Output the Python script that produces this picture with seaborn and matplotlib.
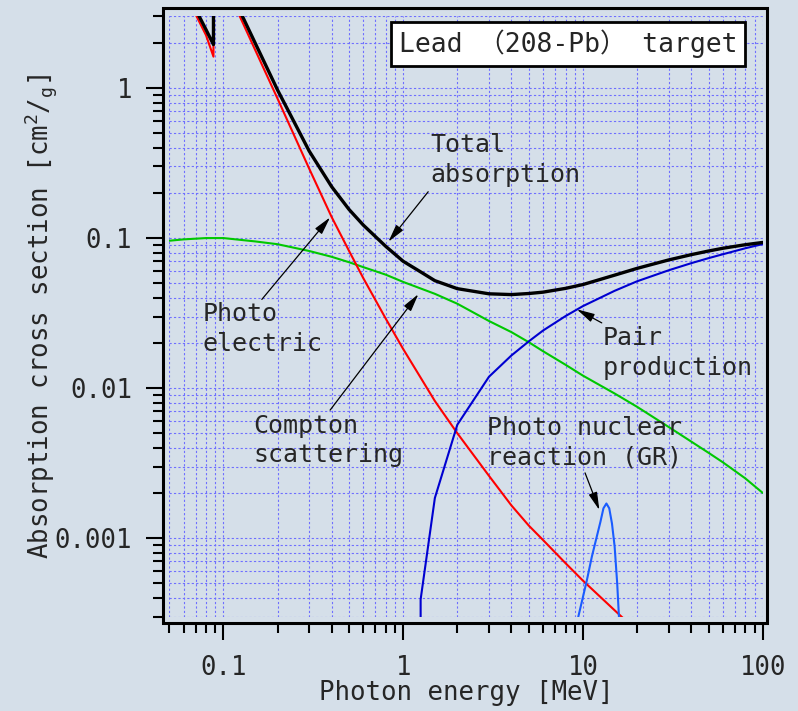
import matplotlib
matplotlib.use('Agg')
import numpy as np
import pandas as pd
import matplotlib.pyplot as plt
import seaborn as sns
from matplotlib.patches import Rectangle
from matplotlib.ticker import LogLocator, NullFormatter

# values (cm2/g vs MeV), lead target
# photo electric has the K-edge at 88 keV, hence the repeated energy
pe_energy = [0.07, 0.08, 0.088, 0.088, 0.1, 0.15, 0.2, 0.3, 0.4, 0.5, 0.6, 0.8, 1, 1.5,
             2, 3, 4, 5, 6, 8, 10, 15, 20]
pe_value = [3.1, 2.25, 1.62, 7.4, 5.2, 1.8, 0.85, 0.29, 0.138, 0.082, 0.054, 0.029, 0.0182,
            0.0082, 0.0050, 0.0026, 0.00165, 0.00121, 0.00097, 0.00068, 0.00052, 0.00033,
            0.00024]

total_energy = [0.07, 0.08, 0.088, 0.088, 0.1, 0.15, 0.2, 0.3, 0.4, 0.5, 0.6, 0.8, 1, 1.25,
                1.5, 2, 3, 4, 5, 6, 8, 10, 15, 20, 30, 40, 50, 60, 80, 100]
total_value = [3.35, 2.45, 1.95, 7.7, 5.55, 2.0, 0.97, 0.38, 0.22, 0.155, 0.122, 0.088, 0.070,
               0.0595, 0.052, 0.046, 0.0425, 0.042, 0.0427, 0.0436, 0.0462, 0.049, 0.0566,
               0.0628, 0.0715, 0.0775, 0.082, 0.0855, 0.0903, 0.0935]

compton_energy = [0.05, 0.06, 0.08, 0.1, 0.15, 0.2, 0.3, 0.4, 0.5, 0.6, 0.8, 1, 1.5, 2, 3, 4,
                  5, 6, 8, 10, 15, 20, 30, 40, 50, 60, 80, 100]
compton_value = [0.096, 0.098, 0.1, 0.1, 0.095, 0.091, 0.082, 0.075, 0.069, 0.064, 0.057,
                 0.051, 0.0425, 0.0365, 0.028, 0.0236, 0.0202, 0.0176, 0.0143, 0.0121,
                 0.0092, 0.0075, 0.0055, 0.0044, 0.0037, 0.0032, 0.0025, 0.002]

# pair production switches on at 1.25 MeV in the chart
pair_energy = [1.25, 1.25, 1.5, 2, 3, 4, 5, 6, 8, 10, 15, 20, 30, 40, 50, 60, 80, 100]
pair_value = [0.0001, 0.00039, 0.00185, 0.0057, 0.0119, 0.0165, 0.0205, 0.0242, 0.0302,
              0.0352, 0.0445, 0.0515, 0.061, 0.068, 0.0735, 0.078, 0.0855, 0.0912]

gr_energy = [9.3, 10.5, 11.2, 12.0, 12.5, 13.0, 13.5, 14.0, 14.5, 15.0, 15.5, 15.9]
gr_value = [0.00028, 0.00052, 0.00075, 0.00105, 0.00128, 0.00158, 0.0017, 0.00158, 0.00125,
            0.00088, 0.0005, 0.00028]

x_ticks = [0.1, 1, 10, 100]
x_tick_labels = ['0.1', '1', '10', '100']
y_ticks = [0.001, 0.01, 0.1, 1]
y_tick_labels = ['0.001', '0.01', '0.1', '1']

bg = '#d5dfe9'
sns.set_style('ticks')
plt.rcParams['font.family'] = ['DejaVu Sans Mono', 'Noto Sans CJK JP']
plt.rcParams['mathtext.fontset'] = 'custom'
plt.rcParams['mathtext.rm'] = 'DejaVu Sans Mono'
plt.rcParams['mathtext.it'] = 'DejaVu Sans Mono'

fig = plt.figure(figsize=(7.98, 7.11), dpi=100, facecolor=bg)
ax = fig.add_axes([0.2122, 0.1329, 0.7436, 0.8439])
ax.set_facecolor(bg)
ax.set_xscale('log')
ax.set_yscale('log')

def draw(energy, value, color, lw):
    df = pd.DataFrame({'energy': energy, 'value': value})
    sns.lineplot(data=df, x='energy', y='value', ax=ax, color=color, lw=lw,
                 sort=False, estimator=None)

draw(compton_energy, compton_value, '#00c800', 1.5)
draw(pe_energy, pe_value, '#ff0000', 1.5)
draw(pair_energy, pair_value, '#0000d0', 1.5)
draw(gr_energy, gr_value, '#1a5cff', 1.5)
draw(total_energy, total_value, 'black', 2.4)

ax.set_xlim(0.05, 100)
ax.set_ylim(0.0003, 3)
ax.set_xticks(x_ticks, x_tick_labels)
ax.set_yticks(y_ticks, y_tick_labels)
ax.xaxis.set_minor_locator(LogLocator(base=10, subs=np.arange(2, 10)))
ax.yaxis.set_minor_locator(LogLocator(base=10, subs=np.arange(2, 10)))
ax.xaxis.set_minor_formatter(NullFormatter())
ax.yaxis.set_minor_formatter(NullFormatter())

ax.grid(which='both', color='#6f6fff', linestyle=(0, (2, 2)), lw=0.8)
ax.set_axisbelow(True)

for s in ax.spines.values():
    s.set_visible(False)
ax.spines['left'].set_position(('outward', 4.3))
ax.spines['bottom'].set_position(('outward', 4.4))
ax.tick_params(which='major', length=12.5, width=1.5, color='black', labelsize=18.5)
ax.tick_params(which='minor', length=7, width=1.5, color='black')
ax.tick_params(axis='x', which='major', pad=11)
ax.tick_params(axis='y', which='major', pad=10)

# closed frame just outside the data area
fig.add_artist(Rectangle((163.3 / 798, 1 - 622.7 / 711), (766.7 - 163.3) / 798,
                         (622.7 - 8.3) / 711, transform=fig.transFigure, fill=False,
                         ec='black', lw=2.2))

ax.set_xlabel('Photon energy [MeV]', fontsize=18.5)
ax.set_ylabel(r'Absorption cross section [cm$^2$/$_\mathrm{g}$]', fontsize=18.5)
ax.xaxis.set_label_coords(0.5, -0.106)
ax.yaxis.set_label_coords(-0.186, 0.5)

ax.text(0.672, 0.954, 'Lead （208-Pb） target', transform=ax.transAxes, ha='center',
        va='center', fontsize=19,
        bbox=dict(boxstyle='square,pad=0.3', fc='white', ec='black', lw=2))

arrow = dict(arrowstyle='-|>,head_length=0.9,head_width=0.22', color='black', lw=0.9,
             shrinkA=0, shrinkB=0, mutation_scale=12)

ax.text(1.411, 0.331, 'Total\nabsorption', fontsize=18, ha='left', va='center', linespacing=1.3)
ax.annotate('', xy=(0.827, 0.0945), xytext=(1.377, 0.2036), arrowprops=arrow)

ax.text(0.0762, 0.0247, 'Photo\nelectric', fontsize=18, ha='left', va='center', linespacing=1.3)
ax.annotate('', xy=(0.392, 0.1374), xytext=(0.1635, 0.039), arrowprops=arrow)

ax.text(0.146, 0.00447, 'Compton\nscattering', fontsize=18, ha='left', va='center', linespacing=1.3)
ax.annotate('', xy=(1.215, 0.0423), xytext=(0.392, 0.00713), arrowprops=arrow)

ax.text(12.9, 0.0171, 'Pair\nproduction', fontsize=18, ha='left', va='center', linespacing=1.3)
ax.annotate('', xy=(9.24, 0.0335), xytext=(12.72, 0.0272), arrowprops=arrow)

ax.text(2.93, 0.0043, 'Photo nuclear\nreaction (GR)', fontsize=18, ha='left', va='center',
        linespacing=1.3)
ax.annotate('', xy=(12.34, 0.001537), xytext=(10.27, 0.00272), arrowprops=arrow)

fig.savefig('out.png', dpi=100, facecolor=bg)
